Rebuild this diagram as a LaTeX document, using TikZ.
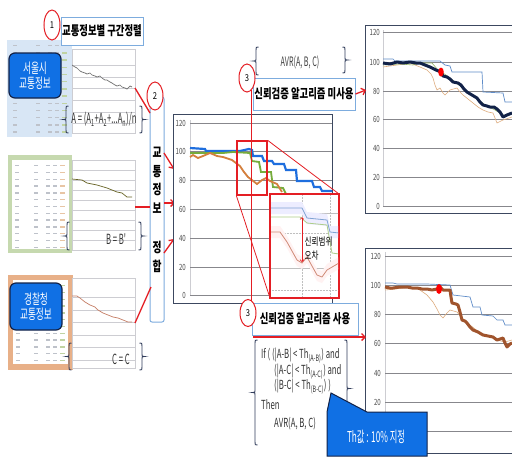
\documentclass[tikz,border=0pt]{standalone}
\usepackage{fontspec}
\setmainfont{Noto Sans CJK KR}[FakeStretch=0.8]
\newfontfamily\hd{Noto Sans CJK KR}[FakeStretch=0.72]
\newfontfamily\nar{Noto Sans CJK KR}[FakeStretch=0.62]
\newfontfamily\vnar{Noto Sans CJK KR}[FakeStretch=0.55]
\usetikzlibrary{arrows.meta,shapes.geometric}
\definecolor{myred}{RGB}{228,30,36}
\definecolor{tborder}{RGB}{125,172,222}
\definecolor{pnlA}{RGB}{216,230,245}
\definecolor{pnlB}{RGB}{198,217,175}
\definecolor{pnlC}{RGB}{232,176,136}
\definecolor{bblue}{RGB}{16,112,228}
\definecolor{navy}{RGB}{18,34,72}
\definecolor{gridc}{RGB}{135,135,140}
\definecolor{frame}{RGB}{60,72,96}
\definecolor{lgray}{RGB}{205,205,210}
\definecolor{tgray}{RGB}{190,194,202}
\definecolor{brc}{RGB}{50,62,92}
\definecolor{cblue}{RGB}{30,110,222}
\definecolor{cgreen}{RGB}{118,172,60}
\definecolor{corange}{RGB}{212,128,62}
\definecolor{tblue}{RGB}{95,140,200}
\definecolor{torange}{RGB}{222,172,125}
\definecolor{tgreen}{RGB}{150,182,100}
\definecolor{brown}{RGB}{160,84,45}
\newcommand\mylbr[3]{\draw[brcline] ({#1+2.5},#2) .. controls (#1,#2) .. (#1,{#2+3}) -- (#1,{(#2+#3)/2-2}) .. controls (#1,{(#2+#3)/2}) .. ({#1-2.5},{(#2+#3)/2}) .. controls (#1,{(#2+#3)/2}) .. (#1,{(#2+#3)/2+2}) -- (#1,{#3-3}) .. controls (#1,#3) .. ({#1+2.5},#3);}
\newcommand\myrbr[3]{\draw[brcline] ({#1-2.5},#2) .. controls (#1,#2) .. (#1,{#2+3}) -- (#1,{(#2+#3)/2-2}) .. controls (#1,{(#2+#3)/2}) .. ({#1+2.5},{(#2+#3)/2}) .. controls (#1,{(#2+#3)/2}) .. (#1,{(#2+#3)/2+2}) -- (#1,{#3-3}) .. controls (#1,#3) .. ({#1-2.5},#3);}
\tikzset{
  brcline/.style={draw=brc,line width=0.9pt},
  tbox/.style={draw=tborder,line width=1pt,fill=white,inner sep=0pt,font=\hd\bfseries\fontsize{13}{14}\selectfont},
  numc/.style={ellipse,draw=myred,line width=1pt,fill=white,inner sep=0pt,minimum width=16pt,font=\fontsize{9.5}{10}\selectfont},
  bbox/.style={draw=navy,line width=1.2pt,fill=bblue,rounded corners=6pt,text=white,align=center,inner sep=0pt,font=\nar\fontsize{14}{15}\selectfont},
  redl/.style={draw=myred,line width=1.3pt},
  redarr/.style={draw=myred,line width=1.3pt,-{Straight Barb[length=3.5pt,width=7pt]}},
  lgrid/.style={draw=lgray,line width=0.6pt},
  grid/.style={draw=gridc,line width=0.9pt},
  axl/.style={font=\hd\fontsize{8.5}{9}\selectfont,text=black!70,inner sep=0pt},
  frm/.style={draw=frame,line width=1pt,fill=white},
  ftxt/.style={font=\vnar\fontsize{14}{15}\selectfont,text=black!80,inner sep=0pt},
}
\begin{document}
\begin{tikzpicture}[x=1pt,y=-1pt]
\useasboundingbox (0,0) rectangle (512,456);
\fill[white] (0,0) rectangle (512,456);

%% ---------- left panels ----------
% panel A
\fill[pnlA] (7,40) rectangle (72,137);
\foreach \r in {0,...,12}{
  \foreach \cx in {13,36,48,55}{\fill[tgray] (\cx,{45+7.2*\r}) rectangle ++(4,1.3);}
  \fill[tgreen!60] (62,{45+7.2*\r}) rectangle ++(5,1.3);}
\draw[lgrid,fill=white] (72,49) rectangle (135,133);
\foreach \y in {65,77,88,100,112,123}{\draw[lgrid] (72,\y)--(135,\y);}
\draw[draw=black!55,line width=0.7pt] plot coordinates {(72,65) (75,67) (77,68) (80,71) (82,72) (85,73) (87,74) (90,73) (92,75) (95,76) (97,77) (100,76) (102,78) (105,80) (107,80) (110,82) (112,83) (115,85) (117,86) (120,85) (122,87) (125,88) (127,89) (130,86) (132,87)};
% panel B
\fill[pnlB] (8,155) rectangle (72,253);
\fill[white] (12,160) rectangle (69,249);
\foreach \r in {0,...,12}{
  \foreach \cx in {15,34,46,53}{\fill[tgray] (\cx,{165+6.8*\r}) rectangle ++(4,1.3);}
  \fill[torange!70] (60,{165+6.8*\r}) rectangle ++(5,1.3);}
\draw[lgrid,fill=white] (72,160) rectangle (135,250);
\foreach \y in {170,180,190,200,210,220,230,240}{\draw[lgrid] (72,\y)--(135,\y);}
\draw[draw=black!35!olive,line width=0.7pt] plot coordinates {(72,179) (82,180) (87,183) (97,185) (107,188) (112,190) (117,192) (122,193) (127,197) (132,197)};
% panel C
\fill[pnlC] (8,275) rectangle (73,370);
\fill[white] (13,280) rectangle (68,364);
\foreach \r in {0,...,11}{
  \foreach \cx in {16,34,46,53}{\fill[tgray] (\cx,{285+6.8*\r}) rectangle ++(4,1.3);}
  \fill[tgreen!60] (60,{285+6.8*\r}) rectangle ++(5,1.3);}
\draw[lgrid,fill=white] (72,278) rectangle (135,368);
\foreach \y in {297,310,322,335,347,360}{\draw[lgrid] (72,\y)--(135,\y);}
\draw[draw=brown!60!pink,line width=0.7pt] plot coordinates {(72,296) (77,296) (80,298) (85,302) (90,305) (95,307) (98,310) (103,313) (108,315) (113,317) (118,318) (123,320) (128,322) (132,322)};

\node[bbox,minimum width=52pt,minimum height=45pt] (sb) at (35,75.5) {서울시\\교통정보};
\node[bbox,minimum width=52pt,minimum height=47pt] (kb) at (36,306.5) {경찰청\\교통정보};

% braces + formulas
\mylbr{66}{106}{133}\myrbr{142}{106}{133}
\node[ftxt] (fa) at (104,119.5) {A = (A\textsubscript{1}+A\textsubscript{2}+...A\textsubscript{n})/n};
\mylbr{67}{222}{250}\myrbr{141}{222}{250}
\node[ftxt] (fb) at (116,239) {B = B'};
\mylbr{69}{343}{370}\myrbr{142}{343}{370}
\node[ftxt] (fc) at (121,359) {C = C};

% title 1
\node[tbox,minimum width=82pt,minimum height=28pt] (t1) at (102,31) {교통정보별 구간정렬};
\node[numc,minimum height=30pt] (c1) at (52,25) {1};

%% ---------- vertical box ----------
\node[draw=tborder,line width=1pt,fill=white,rounded corners=2pt,minimum width=14pt,minimum height=225pt,inner sep=0pt] (vb) at (157,209.5) {};
\node[align=center,inner sep=0pt,font=\hd\bfseries\fontsize{13.5}{18.5}\selectfont] (vt) at (157,210) {교\\통\\정\\보\\[21pt]정\\합};
\node[numc,minimum height=28pt] (c2) at (155,96) {2};
\coordinate (la) at (135,88); \coordinate (lae) at (150,113);
\coordinate (lb) at (135,207); \coordinate (lbe) at (150,207);
\coordinate (lc) at (135,323); \coordinate (lce) at (151,287);
\draw[redl] (la)--(lae); \draw[redl] (lb)--(lbe); \draw[redl] (lc)--(lce);
\coordinate (a1s) at (164,153); \coordinate (a1e) at (174,169);
\coordinate (a2s) at (164,203); \coordinate (a2e) at (175,203);
\coordinate (a3s) at (164,253); \coordinate (a3e) at (174,239);
\draw[redarr] (a1s)--(a1e); \draw[redarr] (a2s)--(a2e); \draw[redarr] (a3s)--(a3e);

%% ---------- middle chart ----------
\draw[frm] (173,114) rectangle (332,303);
\draw[draw=lgray,line width=0.6pt] (190,120)--(190,295);
\foreach \v/\y in {120/123,100/151,80/180,60/209,40/238,20/267,0/295}{
  \draw[grid] (190,\y)--(332,\y);
  \node[axl,anchor=east] at (186,\y) {\v};}
\draw[draw=cblue,line width=2.2pt] plot coordinates {(190,148) (205,149) (206,151) (240,151) (249,149) (252,150) (253,156) (262,156) (264,161) (272,161) (274,164) (284,164) (286,170) (296,170) (297,181) (312,181) (314,187) (320,187) (322,191) (332,191)};
\draw[draw=cgreen,line width=1.8pt] plot coordinates {(190,153) (223,153) (233,152) (250,153) (252,161) (259,162) (261,172) (271,172) (273,187) (283,188) (286,194)};
\draw[draw=corange,line width=1.8pt] plot coordinates {(190,157) (193,155) (198,158) (203,156) (210,153) (217,156) (223,157) (232,160) (240,166) (244,172) (248,177) (252,180) (257,184) (262,180) (266,178) (270,181) (277,184) (282,192)};
% zoom rect + connectors
\node[draw=myred,line width=1.3pt,minimum width=30pt,minimum height=54pt,inner sep=0pt] (zr) at (252,168) {};
\coordinate (iTR) at (339,194); \coordinate (iBL) at (270,298);
\draw[draw=myred,line width=0.8pt] (zr.north east)--(iTR);
\draw[draw=myred,line width=0.8pt] (zr.south west)--(iBL);
% inset
\node[draw=myred,line width=1.3pt,fill=white,minimum width=69pt,minimum height=104pt,inner sep=0pt] (ins) at (304.5,246) {};
\begin{scope}
\clip (271,195) rectangle (338,297);
\draw[draw=black!25,line width=0.6pt] (270,213)--(339,213);
\draw[draw=black!25,line width=0.6pt] (270,268)--(339,268);
\draw[draw=black!25,line width=0.5pt,densely dotted] (270,233)--(339,233) (270,290)--(339,290);
\draw[draw=black!25,line width=0.5pt,densely dotted] (302,195)--(302,297) (330,195)--(330,297);
\fill[blue!7] (271,202)--(302,202)--(307,212)--(327,214)--(330,226)--(339,226)--(339,238)--(330,238)--(327,226)--(307,224)--(302,214)--(271,214)--cycle;
\fill[red!5] (271,226)--(280,226)--(287,236)--(297,254)--(302,257)--(307,251)--(317,269)--(322,271)--(327,264)--(339,257)--(339,269)--(327,276)--(322,283)--(317,281)--(307,263)--(302,269)--(297,266)--(287,248)--(280,238)--(271,238)--cycle;
\draw[draw=tblue!80,line width=0.8pt] plot coordinates {(271,208) (302,208) (307,218) (327,220) (330,232) (339,233)};
\draw[draw=cgreen!60,line width=0.8pt] plot coordinates {(271,217) (300,217) (307,223) (327,225) (332,253) (339,254)};
\draw[draw=brown!50!pink,line width=0.8pt] plot coordinates {(271,232) (280,232) (287,242) (297,260) (302,263) (307,257) (317,275) (322,277) (327,270) (339,263)};
\end{scope}
\coordinate (dA) at (302,217); \coordinate (dB) at (302,262);
\draw[draw=myred,line width=0.6pt,{Straight Barb[length=2pt,width=4pt]}-{Straight Barb[length=2pt,width=4pt]}] (dA)--(dB);
\node[anchor=west,align=left,inner sep=0pt,font=\hd\fontsize{10.5}{14}\selectfont] (it) at (304.5,249) {신뢰범위\\오차};

%% ---------- red vertical line ----------
\coordinate (vl1) at (251,90); \coordinate (vl2) at (251,302);
\draw[draw=myred,line width=1pt] (vl1)--(vl2);

%% ---------- top right ----------
\mylbr{256}{47}{75}\myrbr{345}{47}{73}
\node[ftxt,font=\vnar\fontsize{13}{14}\selectfont,text=black!75] (avr1) at (300,62) {AVR(A, B, C)};
\node[tbox,minimum width=102pt,minimum height=32pt] (t3a) at (304,94) {신뢰검증 알고리즘 미사용};
\node[numc,minimum height=28pt] (c3a) at (247,78) {3};

\draw[frm] (365,25) rectangle (514,213);
\draw[draw=lgray,line width=0.6pt] (383,30)--(383,206);
\foreach \v/\y in {120/32,100/62,80/91,60/119,40/148,20/177,0/206}{
  \draw[grid] (383,\y)--(512,\y);
  \node[axl,anchor=east] at (380,\y) {\v};}
\draw[draw=torange,line width=0.6pt] plot coordinates {(383,67) (390,66) (397,65) (404,64) (410,63) (415,65) (420,67) (427,70) (431,74) (433,78) (435,85) (437,90) (440,88) (443,93) (445,95) (450,90) (457,88) (460,92) (463,95) (468,99) (473,103) (478,107) (483,110) (488,112) (493,113) (497,123) (503,120) (512,117)};
\draw[draw=tgreen,line width=0.6pt] plot coordinates {(383,65) (400,64) (413,65) (420,63) (432,63) (438,70) (446,75) (455,82) (465,90) (475,97) (485,105) (495,110) (505,116) (512,114)};
\draw[draw=tblue,line width=0.7pt] plot coordinates {(383,59) (393,59) (395,61) (440,61) (445,65) (450,66) (452,72) (482,72) (483,92) (503,93) (505,102) (512,102)};
\draw[draw=navy,line width=3pt,line join=round] plot coordinates {(383,63) (390,64) (397,62) (403,63) (410,62) (416,63) (420,63) (425,65) (430,67) (436,70) (441,72) (443,76) (447,77) (450,79) (453,82) (458,83) (461,85) (464,89) (467,92) (472,95) (477,98) (480,102) (483,105) (487,106) (490,107) (494,107) (497,109) (500,112) (503,117) (507,115) (512,113)};
\fill[red] (441,72) ellipse [x radius=2.8, y radius=4.5];
\coordinate (ar1) at (366,90);
\draw[redarr] (t3a.east)--(ar1);

%% ---------- bottom right ----------
\draw[frm] (365,248) rectangle (514,453);
\draw[draw=lgray,line width=0.6pt] (385,252)--(385,431);
\foreach \v/\y in {120/256,100/285,80/314,60/343,40/373,20/402}{
  \draw[grid] (385,\y)--(512,\y);
  \node[axl,anchor=east] at (381,\y) {\v};}
\draw[grid] (385,431)--(512,431);
\draw[draw=torange,line width=0.6pt] plot coordinates {(385,290) (395,289) (410,287) (415,288) (420,290) (427,295) (433,302) (437,309) (440,315) (443,318) (447,313) (450,310) (457,312) (462,318) (470,325) (480,333) (490,336) (497,340) (505,342) (512,340)};
\draw[draw=tblue,line width=0.7pt] plot coordinates {(385,283) (393,283) (397,284) (427,284) (450,285) (453,295) (470,297) (473,307) (480,307) (482,315) (493,316) (497,320) (503,320) (505,325) (512,325)};
\draw[draw=brown,line width=3pt,line join=round] plot coordinates {(385,287) (390,288) (393,288) (400,287) (407,287) (412,288) (417,288) (422,289) (427,289) (432,290) (437,289) (440,287) (443,290) (447,290) (450,290) (451,297) (452,303) (456,304) (458,305) (460,312) (462,320) (465,321) (467,323) (470,327) (473,330) (478,332) (483,335) (488,336) (493,337) (497,340) (500,339) (503,338) (505,343) (507,347) (510,344) (512,343)};
\fill[red] (439,289) ellipse [x radius=3, y radius=5];

\node[tbox,minimum width=106pt,minimum height=32pt] (t3b) at (305,319) {신뢰검증 알고리즘 사용};
\node[numc,minimum height=27pt] (c3b) at (248,313) {3};
\coordinate (ar2s) at (253,337); \coordinate (ar2) at (366,337);
\draw[redarr] (ar2s)--(ar2);

% condition block
\mylbr{255}{340}{445}\myrbr{347}{340}{437}
\node[ftxt,anchor=north west,align=left,font=\nar\fontsize{12.5}{15.5}\selectfont] (cond) at (261,348) {If ( (|A-B| < Th\textsubscript{(A-B)}) and\\\hspace{13pt}(|A-C| < Th\textsubscript{(A-C)}) and\\\hspace{13pt}(|B-C| < Th\textsubscript{(B-C)}) )\\[4pt]Then\\[3pt]\hspace{13pt}AVR(A, B, C)};

% callout
\draw[draw=navy,line width=1pt,fill=bblue] (327,412)--(331,393)--(367,412)--(427,412)--(427,456)--(327,456)--cycle;
\node[text=white,inner sep=0pt,font=\vnar\fontsize{15}{16}\selectfont] (th) at (376,437) {Th값 : 10\% 지정};

\end{tikzpicture}
\end{document}
